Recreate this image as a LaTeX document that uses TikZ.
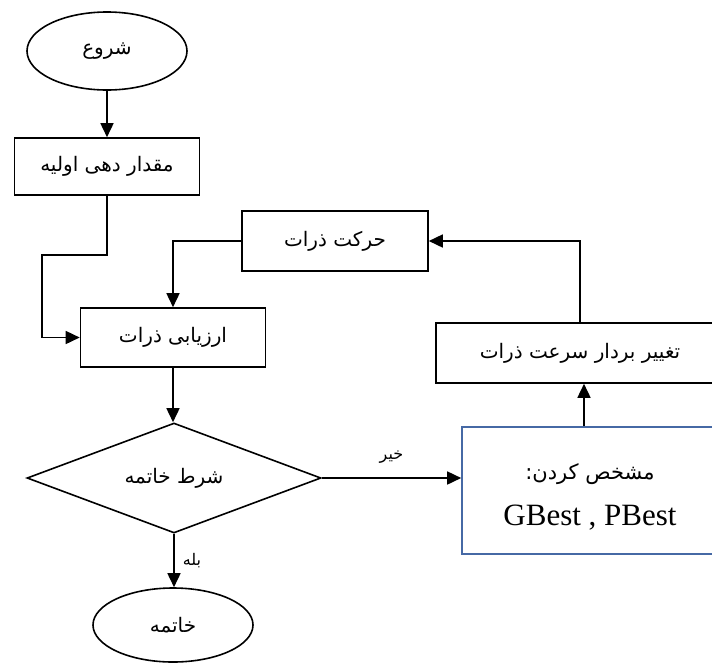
\documentclass[tikz,border=0pt]{standalone}
\usepackage{fontspec}
\setmainfont{Liberation Serif}
\newfontfamily\arabicfont[Script=Arabic]{DejaVu Sans}
\TeXXeTstate=1
\usetikzlibrary{shapes.geometric,arrows.meta}
\definecolor{boxblue}{RGB}{70,105,165}
\newcommand{\fa}[1]{{\arabicfont\beginR #1\endR}}
\begin{document}
\begin{tikzpicture}[x=1pt,y=-1pt,line width=1.6pt,
  every node/.style={inner sep=0pt,font=\fontsize{20}{22}\selectfont},
  term/.style={draw,ellipse,minimum width=160pt,minimum height=78pt},
  box/.style={draw,rectangle,minimum height=59pt},
  decision/.style={draw,diamond,shape aspect=2.67,minimum width=294pt,minimum height=110pt},
  arr/.style={-{Triangle[length=14pt,width=13pt]}},
  lbl/.style={font=\fontsize{16}{18}\selectfont}]
\clip (0,0) rectangle (712,662);
\node[term] (start) at (107,51) {\fa{شروع}};
\node[box,minimum width=185pt,minimum height=57pt] (init) at (107,166.5) {\fa{مقدار دهی اولیه}};
\node[box,minimum width=186pt,minimum height=60pt] (move) at (335,241) {\fa{حرکت ذرات}};
\node[box,minimum width=185pt] (eval) at (173,337.5) {\fa{ارزیابی ذرات}};
\node[decision] (cond) at (174,478) {\fa{شرط خاتمه}};
\node[term,minimum height=74pt] (end) at (173,625) {\fa{خاتمه}};
\node[box,minimum width=288pt,minimum height=60pt] (vel) at (580,353) {\fa{تغییر بردار سرعت ذرات}};
\node[box,draw=boxblue,minimum width=256pt,minimum height=127pt] (best) at (590,490.5) {};
\node[align=center] (besttext) at (590,497)
  {\fontsize{21}{24}\selectfont\fa{مشخص کردن:}\\[20pt]\fontsize{31}{32}\selectfont GBest , PBest};
\coordinate (c1) at (107,255);
\coordinate (c2) at (42,255);
\draw[arr] (start) -- (init);
\draw[arr] (init.south) -- (c1) -- (c2) |- (eval.west);
\draw[arr] (move.west) -| (eval.north);
\draw[arr] (eval.south) -- (eval.south |- cond.north);
\draw[arr] (cond.east) -- (cond.east -| best.west) node[lbl,pos=0.5,above=14pt] {\fa{خیر}};
\draw[arr] (cond.south) -- (cond.south |- end.north) node[lbl,pos=0.5,right=8pt] {\fa{بله}};
\draw[arr] ([xshift=-6pt]best.north) -- ([xshift=-6pt]best.north |- vel.south);
\draw[arr] (vel.north) |- (move.east);
\end{tikzpicture}
\end{document}
